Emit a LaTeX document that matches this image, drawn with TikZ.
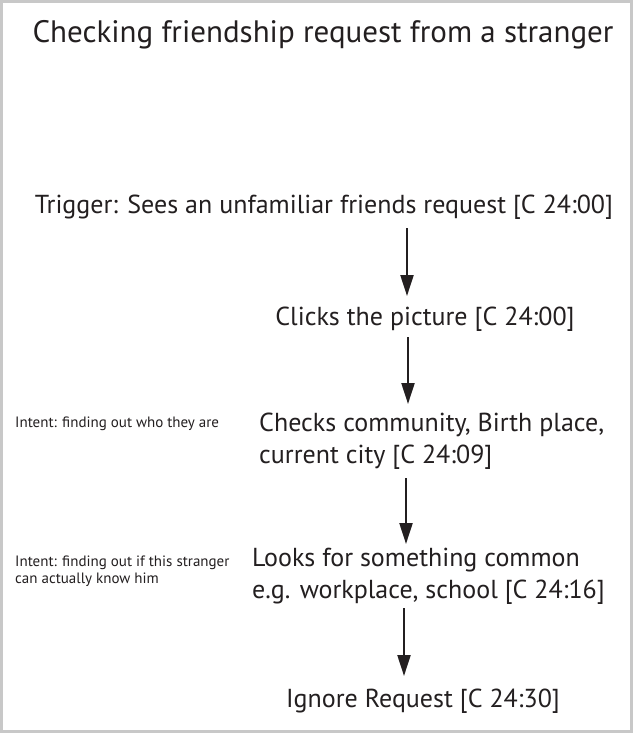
\documentclass[tikz,border=0pt]{standalone}
\usepackage{fontspec}
\setmainfont{PT Sans}
\usetikzlibrary{arrows.meta}
\definecolor{framegray}{HTML}{C8C8C8}
\definecolor{ink}{HTML}{231F20}
\begin{document}
\begin{tikzpicture}[x=1pt,y=-1pt,
  lbl/.style={inner sep=0pt,text=ink,font=\fontsize{26}{32}\selectfont},
  ttl/.style={inner sep=0pt,text=ink,font=\fontsize{31}{36}\selectfont},
  note/.style={inner sep=0pt,text=ink,align=left,font=\fontsize{15}{16.5}\selectfont},
  flow/.style={draw=ink,line width=2.2pt,-{Triangle[length=21pt,width=13pt]}}]
\useasboundingbox (0,0) rectangle (633,733);
\fill[white] (0,0) rectangle (633,733);
\draw[framegray,line width=3pt] (1.5,1.5) rectangle (631.5,731.5);
\node[ttl,anchor=base] (title) at (323,43) {Checking friendship request from a stranger};
\node[lbl,anchor=base] (trig) at (324,213) {Trigger: Sees an unfamiliar friends request [C 24:00]};
\node[lbl,anchor=base] (click) at (425,325) {Clicks the picture [C 24:00]};
\node[lbl,anchor=base west,align=left] (check) at (259,463) {Checks community, Birth place,\\current city [C 24:09]};
\node[lbl,anchor=base west,align=left] (look) at (252,598) {Looks for something common\\e.g. workplace, school [C 24:16]};
\node[lbl,anchor=base] (ign) at (423,707) {Ignore Request [C 24:30]};
\node[note,anchor=base west] (int1) at (15,427) {Intent: finding out who they are};
\node[note,anchor=base west] (int2) at (15,583) {Intent: finding out if this stranger\\can actually know him};
\coordinate (a1s) at (407,228); \coordinate (a1e) at (407,296);
\coordinate (a2s) at (408,337); \coordinate (a2e) at (408,404);
\coordinate (a3s) at (406,478); \coordinate (a3e) at (406,544);
\coordinate (a4s) at (404,608); \coordinate (a4e) at (404,676);
\draw[flow] (a1s) -- (a1e);
\draw[flow] (a2s) -- (a2e);
\draw[flow] (a3s) -- (a3e);
\draw[flow] (a4s) -- (a4e);
\end{tikzpicture}
\end{document}
